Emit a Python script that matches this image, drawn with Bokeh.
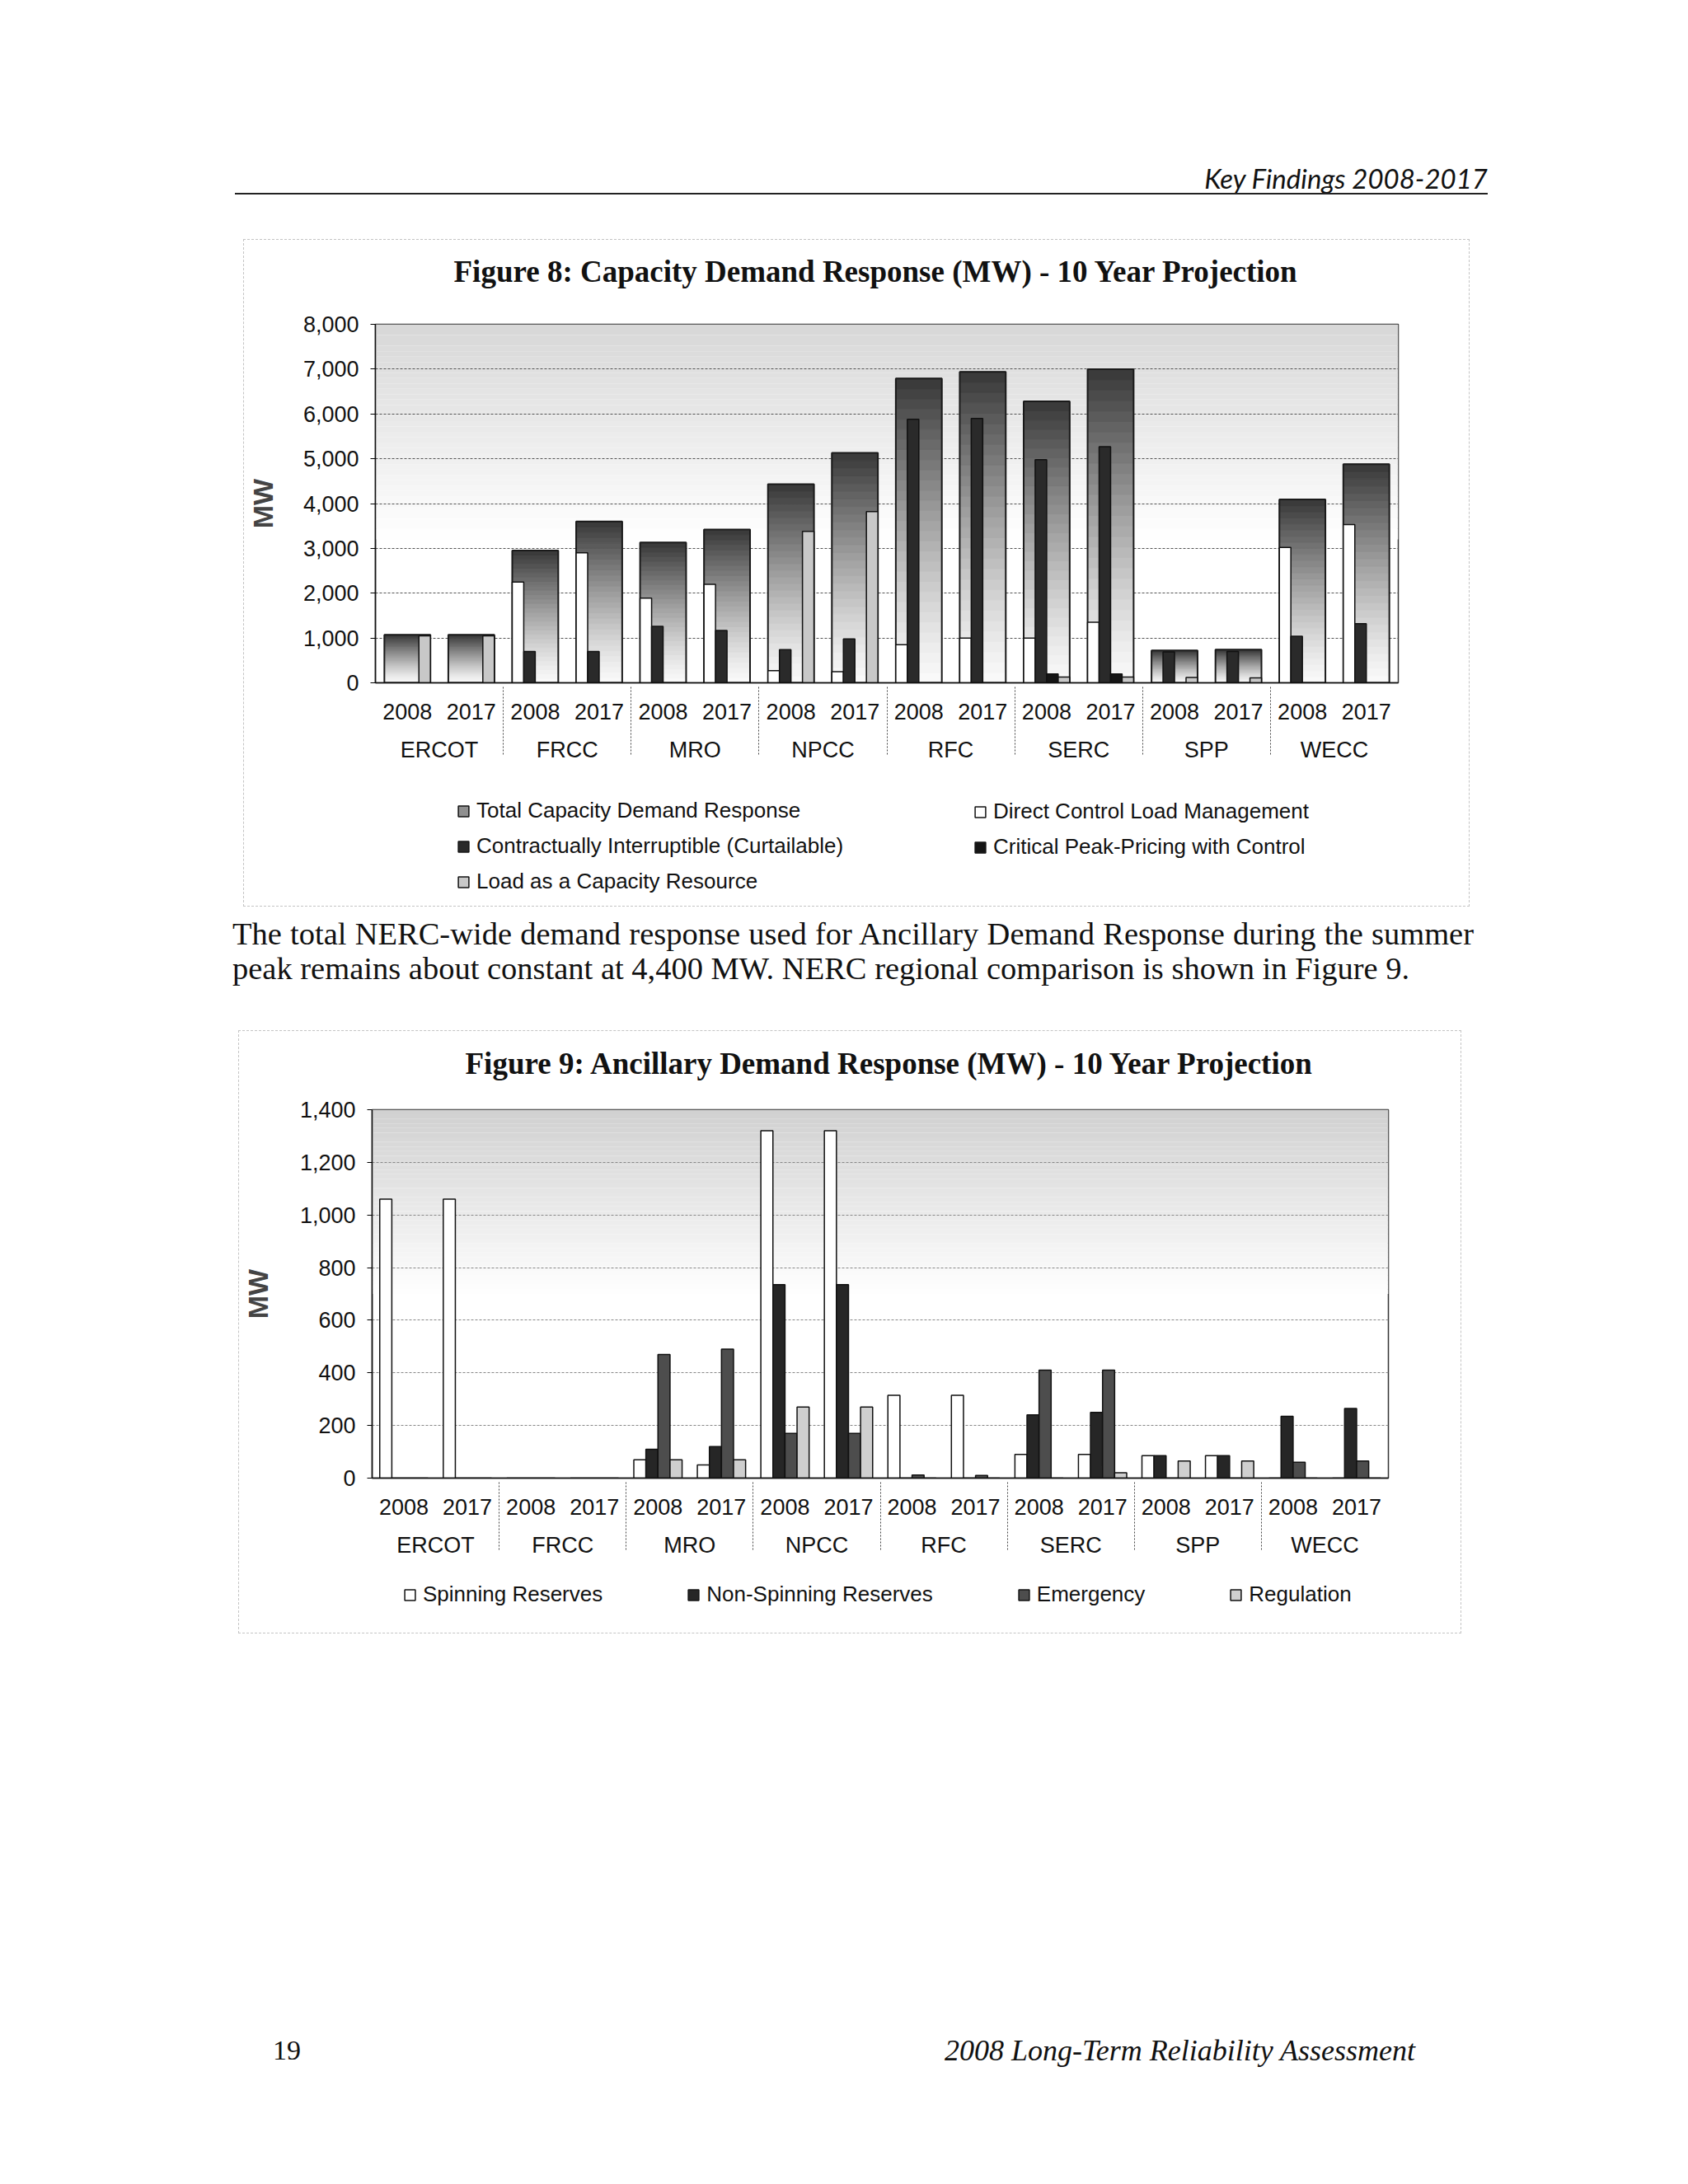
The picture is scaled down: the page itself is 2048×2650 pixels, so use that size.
import numpy as np
from bokeh.plotting import figure
from bokeh.models import (ColumnDataSource, FactorRange, Range1d, FixedTicker,
                          NumeralTickFormatter, Legend, LegendItem, BoxAnnotation, Div)
from bokeh.transform import dodge
from bokeh.layouts import column
from bokeh.embed import file_html
from bokeh.resources import INLINE

# ---------------- data ----------------
regions = ["ERCOT", "FRCC", "MRO", "NPCC", "RFC", "SERC", "SPP", "WECC"]
years = ["2008", "2017"]

# Figure 8: Capacity Demand Response (MW)
cap_total    = [1070, 1070, 2950, 3600, 3130, 3420, 4430, 5130, 6790, 6940, 6280, 7000, 720, 740, 4090, 4880]
cap_direct   = [0, 0, 2250, 2900, 1890, 2200, 270, 250, 850, 1000, 1000, 1350, 0, 0, 3020, 3530]
cap_contract = [0, 0, 700, 700, 1260, 1170, 740, 980, 5880, 5900, 4980, 5270, 690, 700, 1040, 1320]
cap_critical = [0, 0, 0, 0, 0, 0, 0, 0, 0, 0, 200, 200, 0, 0, 0, 0]
cap_laar     = [1050, 1050, 0, 0, 0, 0, 3380, 3820, 0, 0, 130, 130, 120, 110, 0, 0]
cap_ticks = [0, 1000, 2000, 3000, 4000, 5000, 6000, 7000, 8000]

# Figure 9: Ancillary Demand Response (MW)
anc_spin    = [1060, 1060, 0, 0, 70, 50, 1320, 1320, 315, 315, 90, 90, 85, 85, 0, 0]
anc_nonspin = [0, 0, 0, 0, 110, 120, 735, 735, 0, 0, 240, 250, 85, 85, 235, 265]
anc_emerg   = [0, 0, 0, 0, 470, 490, 170, 170, 12, 10, 410, 410, 0, 0, 60, 65]
anc_regul   = [0, 0, 0, 0, 70, 70, 270, 270, 0, 0, 0, 20, 65, 65, 0, 0]
anc_ticks = [0, 200, 400, 600, 800, 1000, 1200, 1400]

factors = [(r, y) for r in regions for y in years]

SANS = "Liberation Sans"
SERIF = "Liberation Serif"


def gray(level):
    level = int(max(0, min(255, round(level))))
    return "#%02x%02x%02x" % (level, level, level)


def background(p, ymax, top_level, fade_frac, n=40):
    lo = ymax * (1 - fade_frac)
    edges = np.linspace(lo, ymax, n + 1)
    for i in range(n):
        t = (i + 0.5) / n
        lvl = 255 - (255 - top_level) * t
        p.add_layout(BoxAnnotation(bottom=edges[i], top=edges[i + 1], fill_color=gray(lvl),
                                   fill_alpha=1.0, line_color=None, level="image"))


def base_fig(ymax, ticks, width, height, bl, br, bt, bb, label_standoff):
    xr = FactorRange(*factors, group_padding=0, factor_padding=0, range_padding=0)
    p = figure(x_range=xr, y_range=Range1d(0, ymax), width=width, height=height, title=None,
               output_backend="svg", toolbar_location=None,
               min_border_left=bl, min_border_right=br, min_border_top=bt, min_border_bottom=bb,
               background_fill_color="white", border_fill_color="white")
    p.outline_line_color = "#333333"
    p.outline_line_width = 1.5
    p.xgrid.grid_line_color = None
    p.ygrid.grid_line_color = "#555555"
    p.ygrid.grid_line_dash = "3 2"
    p.ygrid.grid_line_width = 1
    ya = p.yaxis[0]
    ya.ticker = FixedTicker(ticks=ticks)
    ya.formatter = NumeralTickFormatter(format="0,0")
    ya.major_label_text_font = SANS
    ya.major_label_text_font_size = "27px"
    ya.major_label_text_color = "#111111"
    ya.major_label_standoff = 14
    ya.axis_label = "MW"
    ya.axis_label_text_font = SANS
    ya.axis_label_text_font_size = "34px"
    ya.axis_label_text_font_style = "bold"
    ya.axis_label_standoff = label_standoff
    ya.major_tick_out = 6
    ya.major_tick_in = 0
    ya.minor_tick_line_color = None
    ya.axis_line_color = "#111111"
    ya.axis_line_width = 1.5
    xa = p.xaxis[0]
    xa.major_label_text_font = SANS
    xa.major_label_text_font_size = "27px"
    xa.major_label_text_color = "#111111"
    xa.major_label_orientation = "horizontal"
    xa.major_label_standoff = 19
    xa.group_text_font = SANS
    xa.group_text_font_size = "27px"
    xa.group_text_font_style = "normal"
    xa.group_text_color = "#111111"
    xa.group_label_orientation = "horizontal"
    xa.separator_line_color = "#444444"
    xa.separator_line_width = 1
    xa.separator_line_dash = "2 2"
    xa.major_tick_line_color = None
    xa.minor_tick_line_color = None
    xa.axis_line_color = "#111111"
    xa.axis_line_width = 1.5
    return p


def side_fig(width, height, bl, br, title=None, standoff=10, offset=0):
    f = figure(width=width, height=height, x_range=Range1d(0, 1), y_range=Range1d(0, 1),
               output_backend="svg", toolbar_location=None, x_axis_location=None,
               y_axis_location=None, min_border_top=0, min_border_bottom=0,
               min_border_left=bl, min_border_right=br, outline_line_color=None,
               background_fill_color="white", border_fill_color="white", title=title)
    f.xgrid.visible = False
    f.ygrid.visible = False
    if title is not None:
        f.title.text_font = SERIF
        f.title.text_font_size = "37px"
        f.title.text_font_style = "bold"
        f.title.text_color = "#111111"
        f.title.align = "left"
        f.title.offset = offset
        f.title.standoff = standoff
    return f


def legend(items, loc, orientation="vertical", spacing=12):
    return Legend(items=items, location=loc, orientation=orientation, spacing=spacing,
                  padding=0, margin=0, border_line_color=None, background_fill_alpha=0,
                  label_text_font=SANS, label_text_font_size="26px", label_text_color="#111111",
                  label_height=30, glyph_width=16, glyph_height=16, label_standoff=8)


def swatch(f, fill):
    # legend-only renderer: a single NaN bar, never drawn in the frame
    return f.vbar(x=[np.nan], top=[np.nan], width=0.5, fill_color=fill,
                  line_color="#111111", line_width=1.5)


# ---------------- Figure 8 ----------------
t8 = side_fig(1486, 80, 156, 86, title="Figure 8: Capacity Demand Response (MW) - 10 Year Projection",
              standoff=30, offset=95)
p8 = base_fig(8000, cap_ticks, 1486, 584, 156, 86, 22, 127, 27)
background(p8, 8000, 215, 0.6)

N = 30
gx, gb, gt, gc = [], [], [], []
for f, tot in zip(factors, cap_total):
    for k in range(N):
        t = (k + 0.5) / N
        gx.append(f)
        gb.append(tot * k / N)
        gt.append(tot * (k + 1) / N)
        gc.append(gray(250 - (250 - 55) * t ** 1.25))
grad_src = ColumnDataSource(dict(x=gx, b=gb, t=gt, c=gc))
p8.vbar(x="x", bottom="b", top="t", width=0.72, fill_color="c", line_color="c",
        line_width=1, source=grad_src)
p8.vbar(x=factors, top=cap_total, width=0.72, fill_alpha=0, line_color="#1a1a1a", line_width=2)

src8 = ColumnDataSource(dict(x=factors, direct=cap_direct, contract=cap_contract,
                             critical=cap_critical, laar=cap_laar))
bw8 = 0.18
col8 = {"direct": "white", "contract": "#2a2a2a", "critical": "#151515", "laar": "#c8c8c8"}
for key, off in zip(["direct", "contract", "critical", "laar"], [-0.27, -0.09, 0.09, 0.27]):
    p8.vbar(x=dodge("x", off, range=p8.x_range), top=key, width=bw8, source=src8,
            fill_color=col8[key], line_color="#111111", line_width=1.5)

l8 = side_fig(1486, 144, 156, 86)
lgA = legend([LegendItem(label="Total Capacity Demand Response", renderers=[swatch(l8, "#8f8f8f")]),
              LegendItem(label="Contractually Interruptible (Curtailable)",
                         renderers=[swatch(l8, col8["contract"])]),
              LegendItem(label="Load as a Capacity Resource", renderers=[swatch(l8, col8["laar"])])],
             (99, 14))
lgB = legend([LegendItem(label="Direct Control Load Management", renderers=[swatch(l8, col8["direct"])]),
              LegendItem(label="Critical Peak-Pricing with Control",
                         renderers=[swatch(l8, col8["critical"])])],
             (726, 56))
l8.add_layout(lgA)
l8.add_layout(lgB)

# ---------------- Figure 9 ----------------
t9 = side_fig(1482, 82, 158, 88, title="Figure 9: Ancillary Demand Response (MW)  - 10 Year Projection",
              standoff=32, offset=113)
p9 = base_fig(1400, anc_ticks, 1482, 572, 158, 88, 13, 112, 29)
background(p9, 1400, 208, 0.5)
p9.ygrid.grid_line_color = "#888888"

src9 = ColumnDataSource(dict(x=factors, spin=anc_spin, nonspin=anc_nonspin,
                             emerg=anc_emerg, regul=anc_regul))
bw9 = 0.19
col9 = {"spin": "white", "nonspin": "#262626", "emerg": "#4d4d4d", "regul": "#cfcfcf"}
for key, off in zip(["spin", "nonspin", "emerg", "regul"], [-0.285, -0.095, 0.095, 0.285]):
    p9.vbar(x=dodge("x", off, range=p9.x_range), top=key, width=bw9, source=src9,
            fill_color=col9[key], line_color="#111111", line_width=1.5)

l9 = side_fig(1482, 76, 158, 88)
lg9 = legend([LegendItem(label="Spinning Reserves", renderers=[swatch(l9, col9["spin"])]),
              LegendItem(label="Non-Spinning Reserves", renderers=[swatch(l9, col9["nonspin"])]),
              LegendItem(label="Emergency", renderers=[swatch(l9, col9["emerg"])]),
              LegendItem(label="Regulation", renderers=[swatch(l9, col9["regul"])])],
             (38, 31), orientation="horizontal", spacing=102)
l9.add_layout(lg9)

# ---------------- page texts ----------------
header = Div(width=2030, height=291, margin=(0, 0, 0, 0), text=(
    '<div style="position:relative;width:2030px;height:291px;">'
    '<div style="position:absolute;right:225px;top:196px;font-family:Lato;font-style:italic;'
    'font-size:33px;line-height:40px;color:#111;white-space:nowrap;">Key Findings 2008-2017</div>'
    '<div style="position:absolute;left:285px;top:234px;width:1520px;height:2px;background:#222;"></div>'
    '</div>'))

para = Div(width=1506, height=152, margin=(0, 0, 0, 282), text=(
    '<div style="font-family:\'Liberation Serif\';font-size:38.5px;line-height:42px;color:#111;'
    'padding-top:13px;width:1506px;">'
    '<div style="text-align:justify;text-align-last:justify;white-space:nowrap;">The total NERC-wide demand '
    'response used for Ancillary Demand Response during the summer</div>'
    '<div style="white-space:nowrap;">peak remains about constant at 4,400 MW. NERC regional comparison is '
    'shown in Figure 9.</div></div>'))

footer = Div(width=2030, height=540, margin=(0, 0, 0, 0), text=(
    '<div style="position:relative;width:2030px;height:540px;">'
    '<div style="position:absolute;left:331px;top:487px;font-family:\'Liberation Serif\';'
    'font-size:34px;line-height:40px;color:#111;">19</div>'
    '<div style="position:absolute;right:313px;top:487px;font-family:\'Liberation Serif\';'
    'font-style:italic;font-size:36px;line-height:40px;color:#111;white-space:nowrap;">'
    '2008 Long-Term Reliability Assessment</div>'
    '</div>'))

box8 = column(t8, p8, l8, spacing=0, margin=(0, 0, 0, 296),
              styles={"outline": "1px dashed #c4c4c4"})
box9 = column(t9, p9, l9, spacing=0, margin=(0, 0, 0, 290),
              styles={"outline": "1px dashed #c4c4c4"})

page = column(header, box8, para, box9, footer, spacing=0)

open("out.html", "w").write(file_html(page, INLINE))
